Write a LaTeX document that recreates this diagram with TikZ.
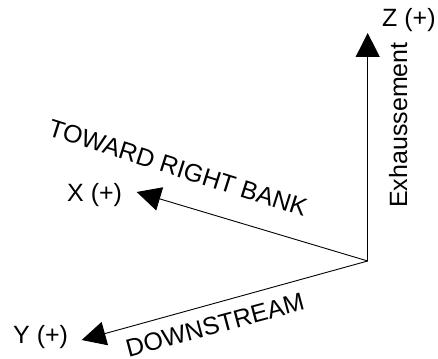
\documentclass[tikz,border=0pt]{standalone}
\usepackage{fontspec}
\setmainfont{Liberation Sans}
\usetikzlibrary{arrows.meta,positioning}
\tikzset{
  axis/.style={line width=0.9pt, -{Triangle[length=24pt,width=24pt]}},
  lbl/.style={inner sep=0pt, font=\fontsize{25}{29}\selectfont},
}
\begin{document}
\begin{tikzpicture}[x=1pt, y=-1pt]
  \useasboundingbox (0,0) rectangle (438,358);
  % Origin and axis tips
  \coordinate (orig) at (367.7,261);
  \coordinate (xtip) at (136.7,192);
  \coordinate (ytip) at (81.7,340);
  \coordinate (ztip) at (367.7,33);

  % Axes
  \draw[axis] (orig) -- (xtip);
  \draw[axis] (orig) -- (ytip);
  \draw[axis] (orig) -- (ztip);

  % Axis names
  \node[lbl, anchor=base west] (xlab) at (67,201) {X (+)};
  \node[lbl, anchor=base west] (ylab) at (13,343) {Y (+)};
  \node[lbl, anchor=base west] (zlab) at (382,27) {Z (+)};

  % Directions
  \node[lbl, rotate=-17.6] (xdesc) at (178,168) {TOWARD RIGHT BANK};
  \node[lbl, rotate=15] (ydesc) at (215,325) {DOWNSTREAM};
  \node[lbl, rotate=90, anchor=base] (zdesc) at (407,125) {Exhaussement};
\end{tikzpicture}
\end{document}
